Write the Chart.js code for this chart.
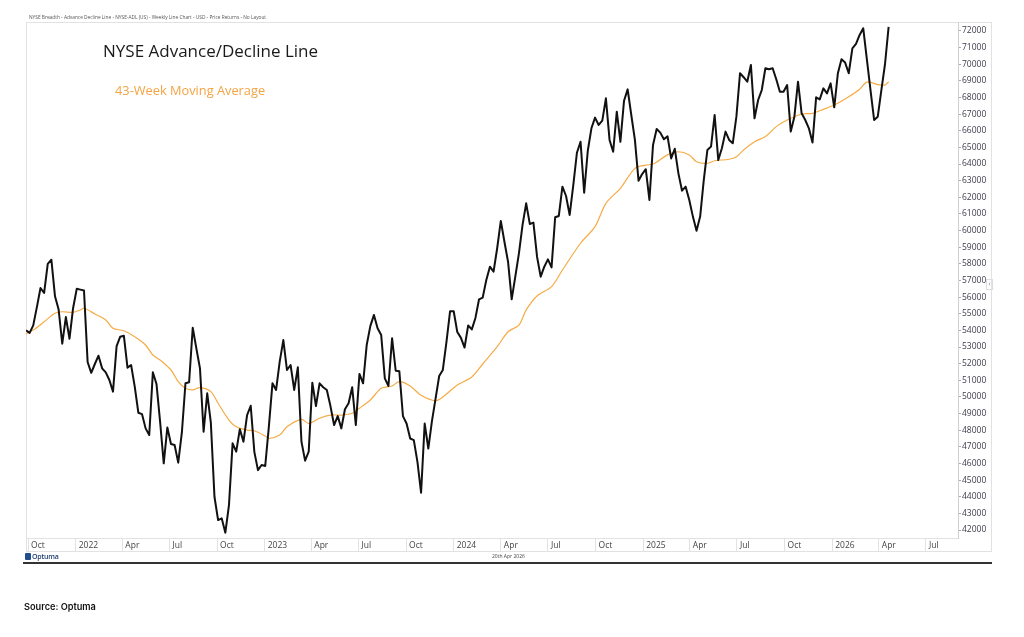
<!DOCTYPE html>
<html><head><meta charset="utf-8">
<script src="https://cdn.jsdelivr.net/npm/chart.js@4.4.1/dist/chart.umd.min.js"></script>
<style>
html,body{margin:0;padding:0;background:#fff;}
#wrap{position:relative;width:1024px;height:637px;overflow:hidden;font-family:"Open Sans",sans-serif;}
#c{position:absolute;left:0;top:0;}
.t{position:absolute;white-space:nowrap;line-height:1;}
</style></head><body>
<div id="wrap">
<canvas id="c" width="1024" height="637"></canvas>
<div class="t" style="left:29px;top:15px;font-size:4.8px;color:#555">NYSE Breadth - Advance Decline Line - NYSE-ADL (US) - Weekly Line Chart - USD - Price Returns - No Layout</div>
<div class="t" style="left:103px;top:42px;font-size:17px;color:#1a1a1a">NYSE Advance/Decline Line</div>
<div class="t" style="left:115px;top:84px;font-size:12.8px;color:#f4a443">43-Week Moving Average</div>
<div class="t" style="left:25px;top:553px;width:6px;height:7px;background:#1f4e8c;border-radius:1px"></div>
<div class="t" style="left:32px;top:553px;font-size:7px;font-weight:600;color:#1f3c73;letter-spacing:-0.2px">Optuma</div>
<div class="t" style="left:492px;top:554px;font-size:5px;color:#444">20th Apr 2026</div>
<div class="t" style="left:986px;top:279px;width:5px;height:9px;border:1px solid #ddd;font-size:7px;color:#888;text-align:center">‹</div>
<div class="t" style="left:24px;top:602px;font-family:Inter,sans-serif;font-size:9.2px;font-weight:600;color:#111">Source: Optuma</div>
</div>
<script>
// ---- data ----
const startDate = '2021-09-27';   // first weekly bar
const endAxisDate = '2026-09-01';
const adValues = [
54000,53850,54300,55400,56550,56250,58000,58250,56050,55250,
53200,54800,53500,55350,56500,56450,56400,52100,51450,51980,
52480,51720,51480,51020,50320,53060,53620,53680,51760,51920,
50620,49050,48970,48110,47710,51480,50780,48510,46010,48170,
47170,47110,46050,47850,50820,50880,54160,52920,51720,47910,
50220,48450,44000,42600,42700,41840,43500,47210,46710,48060,
47310,48910,49470,46700,45600,45910,45850,48200,
50820,50420,52120,53420,51620,51920,50420,51780,47310,46170,
46710,50860,49450,50820,50580,50420,49450,48310,48850,48110,
49260,49620,50580,48310,51380,50820,53120,54260,54930,54130,
53720,51120,50660,53530,51580,51550,48850,48400,47500,47400,
46100,44240,48400,46900,48550,49900,51260,51620,53300,55150,
55150,53900,53550,52970,54300,54060,54750,55870,55970,57030,
57830,57530,58940,60580,59330,58130,55870,57230,58630,60340,
61640,60400,60480,58430,57230,57830,58270,57790,60800,60880,
62640,62080,60940,62740,64680,65340,62280,64800,66150,66790,
66350,66610,67950,65450,64740,67150,65340,67810,68490,66950,
65450,63000,63400,63690,61840,65150,66110,65890,65490,65670,
64340,64920,63440,62400,62640,61840,60840,59990,60840,63040,
64850,65050,66950,64240,64950,65950,65450,65250,66850,69460,
69220,68950,69960,66750,67850,68450,69760,69700,69760,69100,
68350,68350,68750,65950,66850,68950,67050,66650,66150,65290,
68010,67890,68550,68250,68850,67410,69460,70300,70100,69460,
70960,71220,71760,72160,70300,68450,66650,66850,68450,70000,72250];
const maWeek = [0,2,5,8,10,13,15,16,19,22,24,27,30,33,35,37,40,42,44,46,48,51,53,56,58,61,63,66,67,70,72,76,78,81,84,87,90,92,95,98,101,103,106,109,113,115,119,123,126,130,133,136,138,141,145,148,153,157,160,164,168,171,173,177,180,183,185,188,190,194,196,198,201,204,207,210,214,217,220,223,227,230,232,235,237,238];
const maValues = [53800,54020,54520,55030,55120,55090,55230,55330,54990,54630,54130,53980,53620,53120,52520,52220,51620,50920,50520,50420,50560,50320,49620,48610,48210,48010,47970,47650,47500,47710,48210,48650,48410,48720,48910,48910,49020,49320,49820,50520,50660,50920,50660,50100,49770,49990,50720,51200,51980,53020,53920,54320,55230,56070,56630,57630,59240,60240,61640,62540,63740,63940,64000,64550,64740,64550,64140,64050,64200,64290,64440,64850,65340,65650,66250,66650,67010,67050,67290,67550,68050,68500,68930,68780,68750,68950];
const xTickDates = ['2021-10-01','2022-01-01','2022-04-01','2022-07-01','2022-10-01','2023-01-01','2023-04-01','2023-07-01','2023-10-01','2024-01-01','2024-04-01','2024-07-01','2024-10-01','2025-01-01','2025-04-01','2025-07-01','2025-10-01','2026-01-01','2026-04-01','2026-07-01'];
const xTickLabels = ['Oct','2022','Apr','Jul','Oct','2023','Apr','Jul','Oct','2024','Apr','Jul','Oct','2025','Apr','Jul','Oct','2026','Apr','Jul'];
const yTicks = [42000,43000,44000,45000,46000,47000,48000,49000,50000,51000,52000,53000,54000,55000,56000,57000,58000,59000,60000,61000,62000,63000,64000,65000,66000,67000,68000,69000,70000,71000,72000];

// ---- build ----
const WEEK = 7*24*3600*1000;
const t0 = Date.parse(startDate);
const weekTime = i => t0 + i*WEEK;
const adData = adValues.map((v,i)=>({x:weekTime(i), y:v}));
const maData = maWeek.map((w,i)=>({x:weekTime(w), y:maValues[i]}));

const framePlugin = {
  id:'frame',
  beforeDraw(chart){
    const {ctx, chartArea:a, scales:{x,y}} = chart;
    const right = y.right, bottom = x.bottom;
    ctx.save();
    ctx.strokeStyle='#e2e2e2'; ctx.lineWidth=1;
    ctx.strokeRect(a.left+0.5, a.top+0.5, right-a.left-1, bottom-a.top);
    ctx.strokeStyle='#333'; ctx.lineWidth=2;
    ctx.beginPath(); ctx.moveTo(a.left-3, bottom+12); ctx.lineTo(right, bottom+12); ctx.stroke();
    ctx.restore();
  }
};

new Chart(document.getElementById('c'), {
  type:'line',
  data:{datasets:[
    {data:adData, borderColor:'#111', borderWidth:2, pointRadius:0, tension:0, borderJoinStyle:'round'},
    {data:maData, borderColor:'#f6ab45', borderWidth:1.2, pointRadius:0, tension:0.3}
  ]},
  options:{
    responsive:false, animation:false, devicePixelRatio:1,
    layout:{padding:{left:26,right:32,top:22,bottom:86}},
    plugins:{legend:{display:false}, tooltip:{enabled:false}},
    scales:{
      x:{type:'linear', min:t0, max:Date.parse(endAxisDate),
        afterBuildTicks:s=>{s.ticks = xTickDates.map(d=>({value:Date.parse(d)}));},
        afterFit:s=>{s.height=13;},
        grid:{drawOnChartArea:false, drawTicks:true, tickLength:13, color:'#e2e2e2'},
        border:{display:true, color:'#e2e2e2'},
        ticks:{autoSkip:false, maxRotation:0, align:'start', padding:-11, labelOffset:3,
          color:'#444', font:{family:'Open Sans', size:8.5},
          callback:(v,i)=>xTickLabels[i]}
      },
      y:{type:'linear', position:'right', min:41520, max:72540,
        afterBuildTicks:s=>{s.ticks = yTicks.map(v=>({value:v}));},
        afterFit:s=>{s.width=34;},
        grid:{drawOnChartArea:false, drawTicks:true, tickLength:3, color:'#aaa'},
        border:{display:true, color:'#d0d0d0'},
        ticks:{padding:1, color:'#3c3c4c', font:{family:'Open Sans', size:8.5},
          callback:v=>String(v)}
      }
    }
  },
  plugins:[framePlugin]
});
</script>
</body></html>
